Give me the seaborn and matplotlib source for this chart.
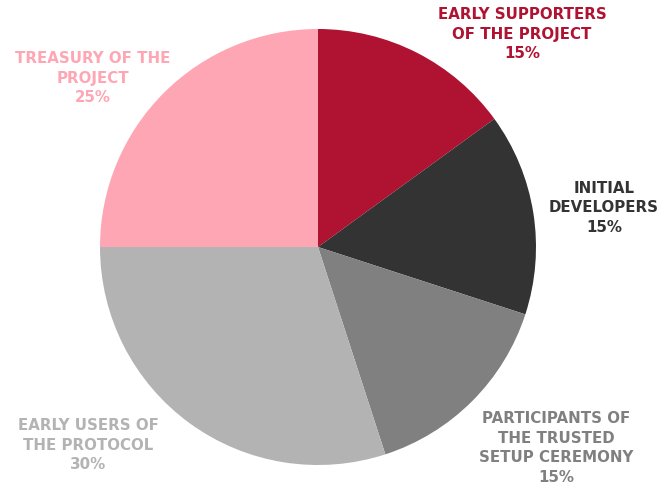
import matplotlib
matplotlib.use("Agg")
import matplotlib.pyplot as plt
import seaborn as sns

categories = ["EARLY SUPPORTERS\nOF THE PROJECT", "INITIAL\nDEVELOPERS",
              "PARTICIPANTS OF\nTHE TRUSTED\nSETUP CEREMONY",
              "EARLY USERS OF\nTHE PROTOCOL", "TREASURY OF THE\nPROJECT"]
values = [15, 15, 15, 30, 25]
colors = ["#B01231", "#333333", "#808080", "#B3B3B3", "#FFA6B4"]

sns.set_theme(style="white")
plt.rcParams['font.family'] = ['DejaVu Sans']

fig = plt.figure(figsize=(6.64, 4.87), dpi=100)
ax = fig.add_axes([0, 0, 1, 1])
H = 487
ax.pie(values, colors=colors, startangle=90, counterclock=False,
       center=(318, H - 247), radius=218, frame=True,
       wedgeprops=dict(linewidth=0))
ax.set_xlim(0, 664)
ax.set_ylim(0, H)
ax.set_aspect('equal')
ax.axis('off')

label_pos = [(522, 34), (604, 208), (556, 448), (88, 445), (93, 78)]
for cat, val, col, (x, y) in zip(categories, values, colors, label_pos):
    ax.text(x, H - y, f"{cat}\n{val}%", color=col, ha='center', va='center',
            fontsize=10.8, fontweight='heavy', linespacing=1.39)

fig.savefig("out.png", dpi=100, facecolor='white')
